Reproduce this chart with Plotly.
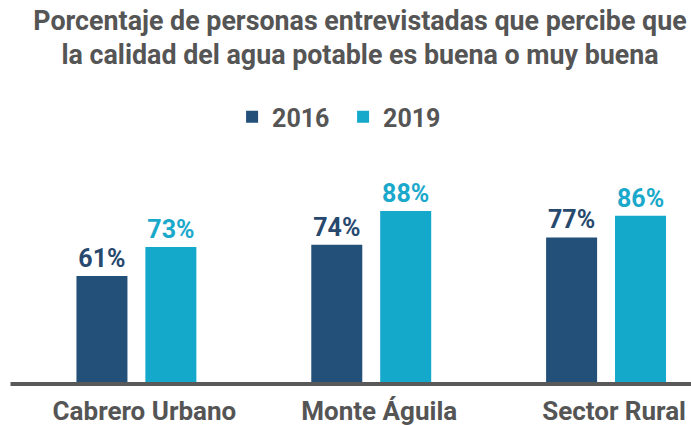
import plotly.graph_objects as go

categories = ["Cabrero Urbano", "Monte Águila", "Sector Rural"]
years = ["2016", "2019"]
values_2016 = [61, 74, 77]
values_2019 = [73, 88, 86]

title_text = "Porcentaje de personas entrevistadas que percibe que<br>la calidad del agua potable es buena o muy buena"

bar_colors = {"2016": "#235079", "2019": "#14a8cb"}
text_colors = {"2016": "#27496e", "2019": "#1aa8cb"}
series = {"2016": values_2016, "2019": values_2019}

FONT = "Roboto"
GRAY = "#555555"

fig = go.Figure()
for y in years:
    fig.add_trace(go.Bar(
        name=y,
        x=categories,
        y=series[y],
        marker=dict(color=bar_colors[y], line=dict(width=0)),
        text=[f"{v}%" for v in series[y]],
        textposition="outside",
        textfont=dict(family=FONT, size=25, color=text_colors[y], weight="bold"),
        constraintext="none",
        cliponaxis=False,
    ))

W, H = 691, 425
ml, mt, mb = 18.5, 150, 43
pw = W - ml
ph = H - mt - mb
fig.update_layout(
    width=W, height=H,
    margin=dict(l=ml, r=0, t=mt, b=mb, pad=0),
    paper_bgcolor="white", plot_bgcolor="white",
    barmode="group", bargap=0.413, bargroupgap=0.26,
    title=dict(
        text=title_text,
        font=dict(family=FONT, size=26.8, color=GRAY, weight="bold"),
        x=0.521, xref="container", xanchor="center",
        y=1 - 29.5 / H, yref="container", yanchor="top",
    ),
    legend=dict(
        orientation="h",
        x=0.4965, xref="container", xanchor="center",
        y=1 - 117 / H, yref="container", yanchor="middle",
        font=dict(family=FONT, size=25, color=GRAY, weight="bold"),
        bgcolor="rgba(0,0,0,0)",
        entrywidth=66, entrywidthmode="pixels",
    ),
    showlegend=True,
    xaxis=dict(
        range=[-0.5, pw / 235 - 0.5],
        showline=False, showgrid=False, zeroline=False, ticks="",
        tickfont=dict(family=FONT, size=26, color=GRAY, weight="bold"),
        ticklabelshift=8, ticklabelstandoff=11,
    ),
    yaxis=dict(
        range=[17, 17 + ph / 2.41],
        visible=False, showgrid=False, zeroline=False,
    ),
    shapes=[dict(
        type="line", xref="paper", yref="paper",
        x0=(10 - ml) / pw, x1=1, y0=-2 / ph, y1=-2 / ph,
        line=dict(color="#595959", width=4), layer="above",
    )],
)

# remove the browser's default 8px page margin so the figure fills the window exactly
fig.write_html(
    "out.html",
    config={"displayModeBar": False},
    post_script="document.body.style.margin='0';",
)
